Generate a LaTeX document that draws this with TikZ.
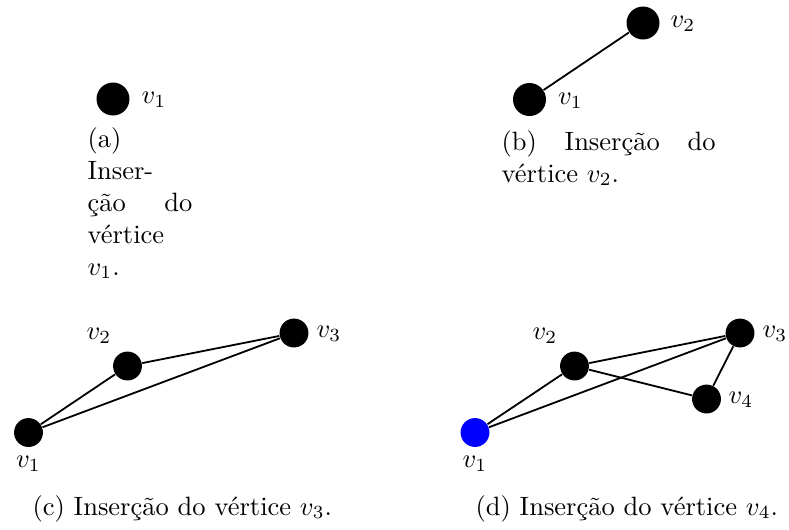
\documentclass[tikz,border=0pt]{standalone}
\usepackage{fontspec}
\begin{document}
\begin{tikzpicture}[x=0.3774pt,y=-0.3774pt,
  vbig/.style={circle,fill=black,inner sep=0pt,minimum size=12.45pt},
  vsmall/.style={circle,fill=black,inner sep=0pt,minimum size=10.9pt},
  vblue/.style={vsmall,fill=blue},
  edge/.style={line width=0.68pt},
  lab/.style={inner sep=0pt},
  capline/.style={inner sep=0pt,anchor=base west}]
\useasboundingbox (0,0) rectangle (789,529);
% (a)
\node[vbig] (a1) at (113,99) {};
\node[lab,anchor=west] (a1l) at (141,100) {$v_1$};
\node[capline] (acap1) at (87,147) {(a)};
\node[capline] (acap2) at (87,179) {Inser-};
\node[capline] (acap3) at (87,211) {\makebox[39.6pt][s]{ção do}};
\node[capline] (acap4) at (87,243) {vértice};
\node[capline] (acap5) at (87,275) {$v_1$.};
% (b)
\node[vbig] (b1) at (529.5,99.5) {};
\node[vbig] (b2) at (643,23) {};
\draw[edge] (b1) -- (b2);
\node[lab,anchor=west] (b1l) at (557.5,100.5) {$v_1$};
\node[lab,anchor=west] (b2l) at (670,24) {$v_2$};
\node[capline] (bcap1) at (501,150) {\makebox[80.8pt][s]{(b) Inserção do}};
\node[capline] (bcap2) at (501,182) {vértice $v_2$.};
% (c)
\node[vsmall] (c1) at (28.5,432.5) {};
\node[vsmall] (c2) at (127.5,366) {};
\node[vsmall] (c3) at (294,333) {};
\draw[edge] (c1) -- (c2);
\draw[edge] (c1) -- (c3);
\draw[edge] (c2) -- (c3);
\node[lab] (c1l) at (28.5,464) {$v_1$};
\node[lab] (c2l) at (99,336) {$v_2$};
\node[lab] (c3l) at (329,334) {$v_3$};
\node[capline] (ccap) at (32,515) {(c) Inserção do vértice $v_3$.};
% (d)
\node[vblue] (d1) at (475,432.5) {};
\node[vsmall] (d2) at (574.5,366) {};
\node[vsmall] (d3) at (740,333) {};
\node[vsmall] (d4) at (706.5,399) {};
\draw[edge] (d1) -- (d2);
\draw[edge] (d1) -- (d3);
\draw[edge] (d2) -- (d3);
\draw[edge] (d2) -- (d4);
\draw[edge] (d3) -- (d4);
\node[lab] (d1l) at (475,464) {$v_1$};
\node[lab] (d2l) at (545,336) {$v_2$};
\node[lab] (d3l) at (775,334) {$v_3$};
\node[lab] (d4l) at (741,400) {$v_4$};
\node[capline] (dcap) at (475,515) {(d) Inserção do vértice $v_4$.};
\end{tikzpicture}
\end{document}
